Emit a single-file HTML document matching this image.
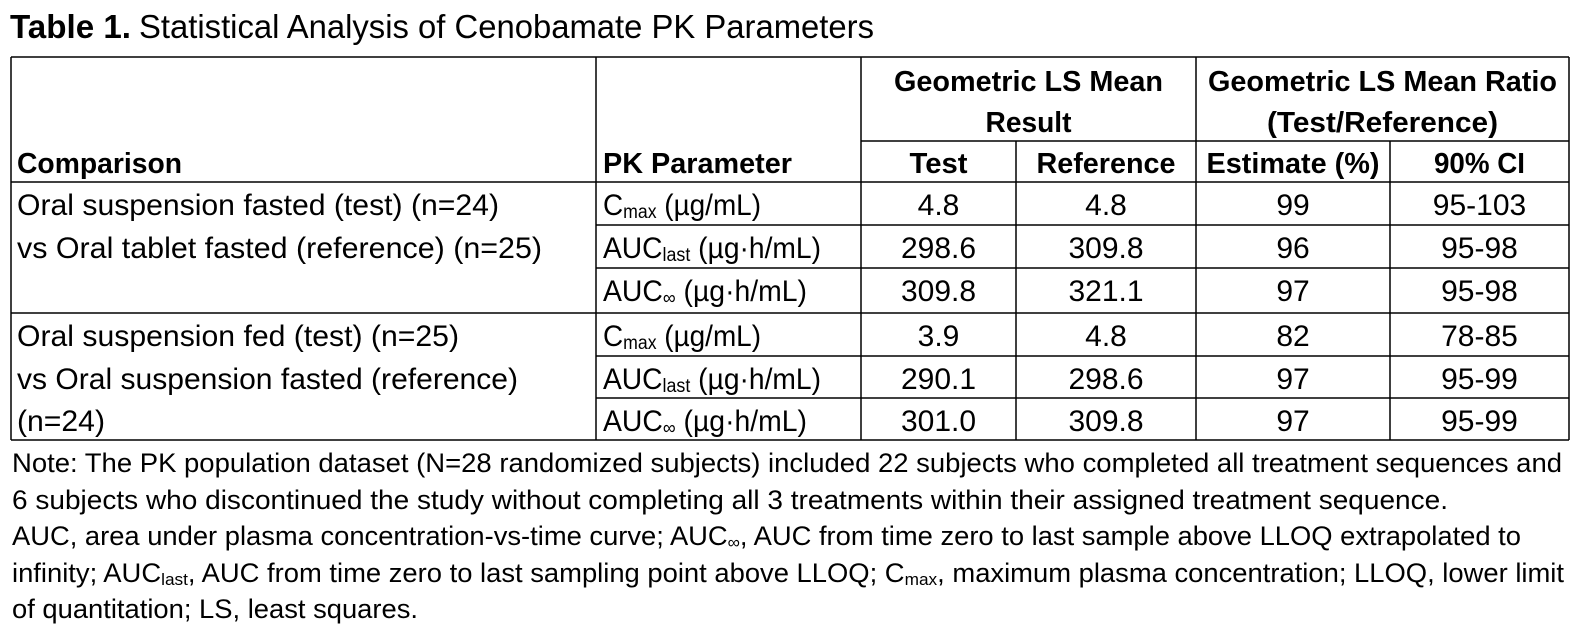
<!DOCTYPE html>
<html>
<head>
<meta charset="utf-8">
<style>
html,body{margin:0;padding:0;background:#fff;}
svg{display:block;}
text{fill:#000;}
</style>
</head>
<body>
<svg width="1582" height="627" viewBox="0 0 1582 627" xmlns="http://www.w3.org/2000/svg" font-family="'Liberation Sans', Arial, sans-serif">
<rect width="1582" height="627" fill="#fff"/>

<!-- Title -->
<text x="10" y="38" font-size="33" font-weight="bold" textLength="121" lengthAdjust="spacingAndGlyphs">Table 1.</text>
<text x="139" y="38" font-size="33" textLength="735" lengthAdjust="spacingAndGlyphs">Statistical Analysis of Cenobamate PK Parameters</text>

<!-- Grid lines -->
<g stroke="#000" stroke-width="1.5" fill="none">
  <path d="M11 57 H1569"/>
  <path d="M861 141 H1569"/>
  <path d="M11 182 H1569"/>
  <path d="M596 225 H1569"/>
  <path d="M596 268 H1569"/>
  <path d="M11 313 H1569"/>
  <path d="M596 356 H1569"/>
  <path d="M596 398 H1569"/>
  <path d="M11 440 H1569"/>
  <path d="M11 57 V440"/>
  <path d="M596 57 V440"/>
  <path d="M861 57 V440"/>
  <path d="M1016 141 V440"/>
  <path d="M1196 57 V440"/>
  <path d="M1390 141 V440"/>
  <path d="M1569 57 V440"/>
</g>

<!-- Header -->
<g font-size="29" font-weight="bold">
  <text x="17" y="173" textLength="165" lengthAdjust="spacingAndGlyphs">Comparison</text>
  <text x="603" y="173" textLength="189" lengthAdjust="spacingAndGlyphs">PK Parameter</text>
  <text x="1028.5" y="91" text-anchor="middle" textLength="269" lengthAdjust="spacingAndGlyphs">Geometric LS Mean</text>
  <text x="1028.5" y="132" text-anchor="middle" textLength="86" lengthAdjust="spacingAndGlyphs">Result</text>
  <text x="1382.5" y="91" text-anchor="middle" textLength="349" lengthAdjust="spacingAndGlyphs">Geometric LS Mean Ratio</text>
  <text x="1382.5" y="132" text-anchor="middle" textLength="231" lengthAdjust="spacingAndGlyphs">(Test/Reference)</text>
  <text x="938.5" y="173" text-anchor="middle" textLength="58" lengthAdjust="spacingAndGlyphs">Test</text>
  <text x="1106" y="173" text-anchor="middle" textLength="139" lengthAdjust="spacingAndGlyphs">Reference</text>
  <text x="1293" y="173" text-anchor="middle" textLength="173" lengthAdjust="spacingAndGlyphs">Estimate (%)</text>
  <text x="1479.5" y="173" text-anchor="middle" textLength="91" lengthAdjust="spacingAndGlyphs">90% CI</text>
</g>

<!-- Comparison column -->
<g font-size="30">
  <text x="17" y="215" textLength="482" lengthAdjust="spacingAndGlyphs">Oral suspension fasted (test) (n=24)</text>
  <text x="17" y="258" textLength="525" lengthAdjust="spacingAndGlyphs">vs Oral tablet fasted (reference) (n=25)</text>
  <text x="17" y="346" textLength="442" lengthAdjust="spacingAndGlyphs">Oral suspension fed (test) (n=25)</text>
  <text x="17" y="389" textLength="501" lengthAdjust="spacingAndGlyphs">vs Oral suspension fasted (reference)</text>
  <text x="17" y="431" textLength="88" lengthAdjust="spacingAndGlyphs">(n=24)</text>
</g>

<!-- PK parameter column -->
<g font-size="30">
  <text x="603" y="215" textLength="158" lengthAdjust="spacingAndGlyphs">C<tspan font-size="19" dy="3">max</tspan><tspan dy="-3"> (µg/mL)</tspan></text>
  <text x="603" y="258" textLength="218" lengthAdjust="spacingAndGlyphs">AUC<tspan font-size="19" dy="3">last</tspan><tspan dy="-3"> (µg·h/mL)</tspan></text>
  <text x="603" y="301" textLength="204" lengthAdjust="spacingAndGlyphs">AUC<tspan font-size="19" dy="3">∞</tspan><tspan dy="-3"> (µg·h/mL)</tspan></text>
  <text x="603" y="346" textLength="158" lengthAdjust="spacingAndGlyphs">C<tspan font-size="19" dy="3">max</tspan><tspan dy="-3"> (µg/mL)</tspan></text>
  <text x="603" y="389" textLength="218" lengthAdjust="spacingAndGlyphs">AUC<tspan font-size="19" dy="3">last</tspan><tspan dy="-3"> (µg·h/mL)</tspan></text>
  <text x="603" y="431" textLength="204" lengthAdjust="spacingAndGlyphs">AUC<tspan font-size="19" dy="3">∞</tspan><tspan dy="-3"> (µg·h/mL)</tspan></text>
</g>

<!-- Numeric data -->
<g font-size="30" text-anchor="middle">
  <text x="938.5" y="215">4.8</text>
  <text x="1106" y="215">4.8</text>
  <text x="1293" y="215">99</text>
  <text x="1479.5" y="215">95-103</text>

  <text x="938.5" y="258">298.6</text>
  <text x="1106" y="258">309.8</text>
  <text x="1293" y="258">96</text>
  <text x="1479.5" y="258">95-98</text>

  <text x="938.5" y="301">309.8</text>
  <text x="1106" y="301">321.1</text>
  <text x="1293" y="301">97</text>
  <text x="1479.5" y="301">95-98</text>

  <text x="938.5" y="346">3.9</text>
  <text x="1106" y="346">4.8</text>
  <text x="1293" y="346">82</text>
  <text x="1479.5" y="346">78-85</text>

  <text x="938.5" y="389">290.1</text>
  <text x="1106" y="389">298.6</text>
  <text x="1293" y="389">97</text>
  <text x="1479.5" y="389">95-99</text>

  <text x="938.5" y="431">301.0</text>
  <text x="1106" y="431">309.8</text>
  <text x="1293" y="431">97</text>
  <text x="1479.5" y="431">95-99</text>
</g>

<!-- Notes -->
<g font-size="27">
  <text x="12" y="472" textLength="1550" lengthAdjust="spacingAndGlyphs">Note: The PK population dataset (N=28 randomized subjects) included 22 subjects who completed all treatment sequences and</text>
  <text x="12" y="509" textLength="1436" lengthAdjust="spacingAndGlyphs">6 subjects who discontinued the study without completing all 3 treatments within their assigned treatment sequence.</text>
  <text x="12" y="545" textLength="1509" lengthAdjust="spacingAndGlyphs">AUC, area under plasma concentration-vs-time curve; AUC<tspan font-size="17" dy="3">∞</tspan><tspan dy="-3">, AUC from time zero to last sample above LLOQ extrapolated to</tspan></text>
  <text x="12" y="582" textLength="1552" lengthAdjust="spacingAndGlyphs">infinity; AUC<tspan font-size="17" dy="3">last</tspan><tspan dy="-3">, AUC from time zero to last sampling point above LLOQ; C</tspan><tspan font-size="17" dy="3">max</tspan><tspan dy="-3">, maximum plasma concentration; LLOQ, lower limit</tspan></text>
  <text x="12" y="618" textLength="406" lengthAdjust="spacingAndGlyphs">of quantitation; LS, least squares.</text>
</g>
</svg>
</body>
</html>
